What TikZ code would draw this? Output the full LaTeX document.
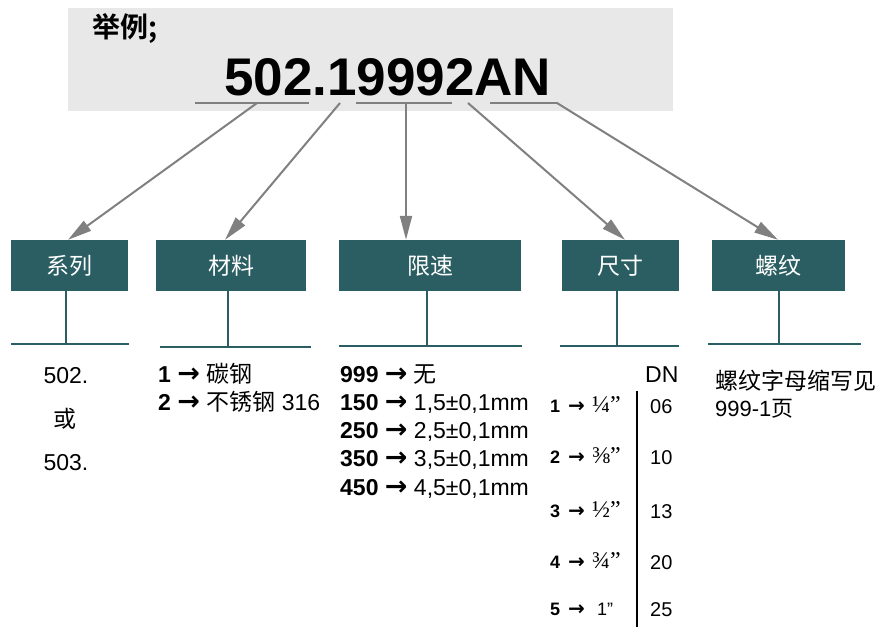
\documentclass[tikz,border=0pt]{standalone}
\usepackage{fontspec}
\setmainfont{Liberation Sans}
\newfontfamily\cjk{Noto Sans CJK SC}
\newfontfamily\cjkbold{Noto Sans CJK SC Bold}
\newfontfamily\serifnum{Liberation Serif}
\newfontfamily\arrowfont{DejaVu Sans Bold}
\newcommand\tarrow{{\arrowfont\fontsize{27}{22}\selectfont →}}
\newcommand\sarrow{{\arrowfont\fontsize{20}{16}\selectfont →}}
\usetikzlibrary{arrows.meta}
\definecolor{boxteal}{RGB}{43,94,98}
\definecolor{arrgray}{RGB}{128,128,128}
\definecolor{bggray}{RGB}{232,232,232}
\begin{document}
\begin{tikzpicture}[x=1pt,y=-1pt,
  catbox/.style={fill=boxteal, text=white, font=\cjk\fontsize{23}{26}\selectfont,
    minimum height=51pt, inner sep=0pt},
  uline/.style={arrgray, line width=2pt},
  arr/.style={arrgray, line width=2pt, -{Triangle[length=24pt,width=12pt]}},
  stem/.style={boxteal, line width=2pt},
  hline/.style={boxteal, line width=2.5pt},
  txt/.style={anchor=base west, inner sep=0pt, font=\fontsize{23}{27}\selectfont},
  ctxt/.style={anchor=base, inner sep=0pt, font=\fontsize{23}{27}\selectfont},
  sz/.style={anchor=base west, inner sep=0pt, font=\fontsize{18}{20}\selectfont},
  frac/.style={anchor=base west, inner sep=0pt, font=\serifnum\fontsize{24}{26}\selectfont},
  dnum/.style={anchor=base west, inner sep=0pt, font=\fontsize{20}{24}\selectfont}
]
\useasboundingbox (0,0) rectangle (885,627);

% header
\fill[bggray] (68,8) rectangle (673,111);
\node[anchor=base west, inner sep=0pt, font=\cjkbold\fontsize{28}{32}\selectfont] (title) at (92,37) {举例;};
\node[anchor=base west, inner sep=0pt, font=\bfseries\fontsize{53}{60}\selectfont] (code) at (224,95) {502.19992AN};

\draw[uline] (195,103) -- (309,103);
\draw[uline] (356,103) -- (452,103);
\draw[uline] (490,103) -- (558,103);

\coordinate (s1) at (257,103);
\coordinate (s2) at (340,103);
\coordinate (s3) at (406,103);
\coordinate (s4) at (468,103);
\coordinate (s5) at (557,103);

% category boxes
\node[catbox, minimum width=117pt] (b1) at (69.5,265.5) {系列};
\node[catbox, minimum width=150pt] (b2) at (231,265.5) {材料};
\node[catbox, minimum width=182pt] (b3) at (430,265.5) {限速};
\node[catbox, minimum width=117pt] (b4) at (620.5,265.5) {尺寸};
\node[catbox, minimum width=133pt] (b5) at (778.5,265.5) {螺纹};

% arrows
\draw[arr] (s1) -- ([xshift=-1.5pt]b1.north);
\draw[arr] (s2) -- ([xshift=-6pt]b2.north);
\draw[arr] (s3) -- (s3 |- b3.north);
\draw[arr] (s4) -- ([xshift=4.5pt]b4.north);
\draw[arr] (s5) -- ([xshift=-0.5pt]b5.north);

% stems and base lines
\coordinate (h1) at (66,344);
\coordinate (h2) at (228,347);
\coordinate (h3) at (427,346);
\coordinate (h4) at (617,346);
\coordinate (h5) at (779,344);
\draw[stem] (b1.south -| h1) -- (h1);
\draw[stem] (b2.south -| h2) -- (h2);
\draw[stem] (b3.south -| h3) -- (h3);
\draw[stem] (b4.south -| h4) -- (h4);
\draw[stem] (b5.south -| h5) -- (h5);
\draw[hline] (11,344) -- (129,344);
\draw[hline] (160,347) -- (311,347);
\draw[hline] (339,346) -- (522,346);
\draw[hline] (560,346) -- (679,346);
\draw[hline] (708,344) -- (861,344);

% series
\node[ctxt] (a1) at (66,383) {502.};
\node[ctxt, font=\cjk\fontsize{23}{27}\selectfont] (a2) at (65,427) {或};
\node[ctxt] (a3) at (66,470) {503.};

% material
\node[txt] (m1) at (158,382) {\textbf{1} \tarrow\ {\cjk 碳钢}};
\node[txt] (m2) at (158,410) {\textbf{2} \tarrow\ {\cjk 不锈钢} 316};

% speed limit
\node[txt] (v1) at (340,382) {\textbf{999} \tarrow\ {\cjk 无}};
\node[txt] (v2) at (340,410) {\textbf{150} \tarrow\ 1,5±0,1mm};
\node[txt] (v3) at (340,438) {\textbf{250} \tarrow\ 2,5±0,1mm};
\node[txt] (v4) at (340,466) {\textbf{350} \tarrow\ 3,5±0,1mm};
\node[txt] (v5) at (340,495) {\textbf{450} \tarrow\ 4,5±0,1mm};

% size
\node[txt] (dn) at (645,382) {DN};
\draw[black, line width=2.2pt] (637,391) -- (637,627);
\node[sz] (r1) at (550,412) {\textbf{1}\hspace{8pt}\sarrow};
\node[sz] (r2) at (550,463) {\textbf{2}\hspace{8pt}\sarrow};
\node[sz] (r3) at (550,517) {\textbf{3}\hspace{8pt}\sarrow};
\node[sz] (r4) at (550,568) {\textbf{4}\hspace{8pt}\sarrow};
\node[sz] (r5) at (550,615) {\textbf{5}\hspace{8pt}\sarrow};
\node[frac] (f1) at (592,412) {¼”};
\node[frac] (f2) at (592,463) {⅜”};
\node[frac] (f3) at (592,517) {½”};
\node[frac] (f4) at (592,568) {¾”};
\node[sz] (f5) at (597,615) {1”};
\node[dnum] (n1) at (650,413) {06};
\node[dnum] (n2) at (650,464) {10};
\node[dnum] (n3) at (650,518) {13};
\node[dnum] (n4) at (650,569) {20};
\node[dnum] (n5) at (650,616) {25};

% thread
\node[txt, font=\cjk\fontsize{23}{26}\selectfont] (t1) at (715,389) {螺纹字母缩写见};
\node[txt, font=\fontsize{22}{26}\selectfont] (t2) at (715,416) {999-1{\cjk 页}};
\end{tikzpicture}
\end{document}
